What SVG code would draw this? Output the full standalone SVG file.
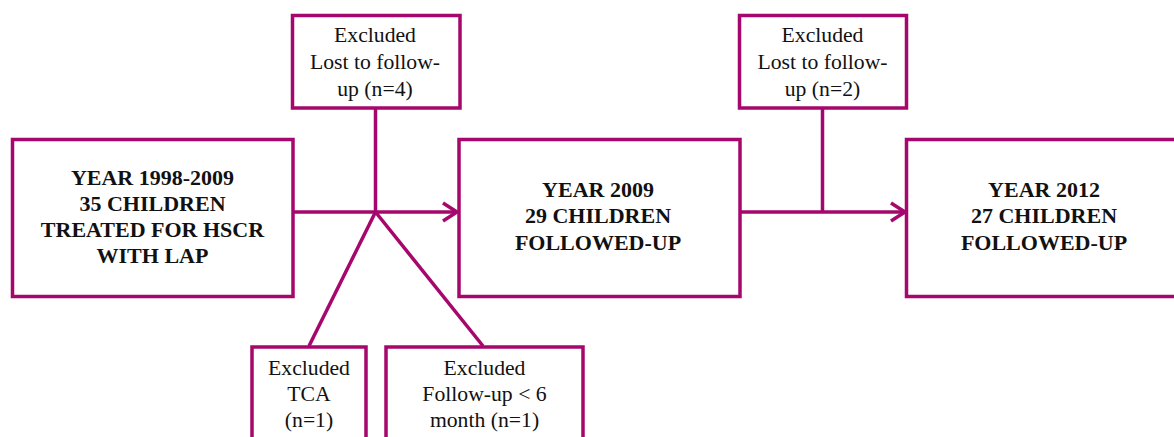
<svg xmlns="http://www.w3.org/2000/svg" width="1174" height="437" viewBox="0 0 1174 437">
<style>
.box{fill:#fff;stroke:#a6076c;stroke-width:3.5}
.ln{fill:none;stroke:#a6076c;stroke-width:3.5}
text{font-family:'Liberation Serif','Times New Roman','DejaVu Serif',serif;fill:#111;text-anchor:middle}
.t{font-size:21.7px}
.b{font-size:22px;font-weight:bold}
</style>
<defs>
<marker id="arr" markerWidth="20" markerHeight="24" refX="16" refY="11" orient="auto" markerUnits="userSpaceOnUse">
<path d="M2,2 L16,11 L2,20" fill="none" stroke="#a6076c" stroke-width="3.5"/>
</marker>
</defs>
<g id="connectors">
<line class="ln" x1="293" y1="212" x2="457" y2="212" marker-end="url(#arr)"/>
<line class="ln" x1="375.5" y1="108" x2="375.5" y2="212"/>
<line class="ln" x1="375.5" y1="212" x2="309" y2="346"/>
<line class="ln" x1="375.5" y1="212" x2="483" y2="346"/>
<line class="ln" x1="740" y1="212" x2="905" y2="212" marker-end="url(#arr)"/>
<line class="ln" x1="822.5" y1="108" x2="822.5" y2="212"/>
</g>
<g id="n1">
<rect class="box" x="12.5" y="139.5" width="280.5" height="157"/>
<text class="b" x="152.5" y="185">YEAR 1998-2009</text>
<text class="b" x="152.5" y="211">35 CHILDREN</text>
<text class="b" x="152.5" y="237">TREATED FOR HSCR</text>
<text class="b" x="152.5" y="263">WITH LAP</text>
</g>
<g id="n2">
<rect class="box" x="459" y="139.5" width="281" height="157"/>
<text class="b" x="598" y="197">YEAR 2009</text>
<text class="b" x="598" y="223">29 CHILDREN</text>
<text class="b" x="598" y="250">FOLLOWED-UP</text>
</g>
<g id="n3">
<rect class="box" x="906.5" y="139.5" width="276" height="157"/>
<text class="b" x="1044" y="197">YEAR 2012</text>
<text class="b" x="1044" y="223">27 CHILDREN</text>
<text class="b" x="1044" y="250">FOLLOWED-UP</text>
</g>
<g id="x1">
<rect class="box" x="292.5" y="15.5" width="167.5" height="92.5"/>
<text class="t" x="375" y="42">Excluded</text>
<text class="t" x="375" y="69">Lost to follow-</text>
<text class="t" x="375" y="96">up (n=4)</text>
</g>
<g id="x2">
<rect class="box" x="739.5" y="15.5" width="167" height="92.5"/>
<text class="t" x="822.5" y="42">Excluded</text>
<text class="t" x="822.5" y="69">Lost to follow-</text>
<text class="t" x="822.5" y="96">up (n=2)</text>
</g>
<g id="x3">
<rect class="box" x="252" y="347" width="114" height="100"/>
<text class="t" x="309" y="375">Excluded</text>
<text class="t" x="309" y="401">TCA</text>
<text class="t" x="309" y="427">(n=1)</text>
</g>
<g id="x4">
<rect class="box" x="386" y="347" width="197" height="100"/>
<text class="t" x="484.5" y="375">Excluded</text>
<text class="t" x="484.5" y="401">Follow-up &lt; 6</text>
<text class="t" x="484.5" y="427">month (n=1)</text>
</g>
</svg>
